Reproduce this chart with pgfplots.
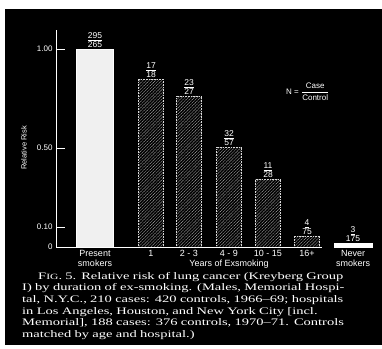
\documentclass[border=0pt]{standalone}
\usepackage{pgfplots}
\pgfplotsset{compat=1.18}
\usetikzlibrary{patterns.meta}
\usepackage{fontspec}
\setmainfont{Liberation Serif}
\newfontfamily\lsans{Liberation Sans}
\newfontfamily\capfont[FakeStretch=1.45,Ligatures=TeX]{Liberation Serif}
\newcommand{\fr}[2]{\underline{#1}\\#2}
\newcommand{\capline}[1]{\makebox[345pt][s]{#1}}
\tikzset{frac/.style={anchor=south, text=white, align=center, inner sep=1.5pt, font=\lsans\fontsize{8.5}{8.5}\selectfont}}
\begin{document}
\begin{tikzpicture}
\fill[white] (0,0) rectangle (382pt,-348pt);
\fill[black] (5pt,-9pt) rectangle (382pt,-345pt);
\begin{axis}[
  at={(56pt,-247pt)}, anchor=south west,
  scale only axis, width=322pt, height=217pt,
  xmin=56, xmax=378, ymin=0, ymax=1.096,
  axis line style={draw=none},
  clip=false,
  ytick={0,0.1,0.5,1}, yticklabels={0,0.10,0.50,1.00},
  ytick pos=left, tick align=inside, major tick length=9pt,
  ytick style={white, line width=0.8pt},
  xtick={95,151,189,229,268,307,353},
  xticklabels={{Present\\smokers},1,{2 - 3},{4 - 9},{10 - 15},16+,{Never\\smokers}},
  xtick style={draw=none},
  xtick pos=left,
  yticklabel style={text=white, font=\lsans\fontsize{8}{9}\selectfont},
  xticklabel style={text=white, font=\lsans\fontsize{9}{10}\selectfont, align=center},
]
\addplot[ybar, bar shift=0pt, bar width=37, fill=white!94!black, draw=white] coordinates {(95,1.00)};
\addplot[ybar, bar shift=0pt, bar width=25, draw=white!85!black, line width=0.8pt, dash pattern=on 1pt off 0.6pt,
  pattern={Lines[angle=45,distance=2.2pt,line width=0.45pt]}, pattern color=gray!70]
  coordinates {(151,0.848) (189,0.763) (229,0.505) (268,0.343) (307,0.056)};
\addplot[ybar, bar shift=0pt, bar width=38, fill=white, draw=white] coordinates {(353,0.02)};
\draw[white, line width=0.9pt] (axis cs:56,1.096) -- (axis cs:56,0) -- (axis cs:322,0);
\node[frac] at (axis cs:95,1.00) {\fr{295}{265}};
\node[frac] at (axis cs:151,0.848) {\fr{17}{18}};
\node[frac] at (axis cs:189,0.763) {\fr{23}{27}};
\node[frac] at (axis cs:229,0.505) {\fr{32}{57}};
\node[frac] at (axis cs:268,0.343) {\fr{11}{28}};
\node[frac] at (axis cs:307,0.056) {\fr{4}{75}};
\node[frac] at (axis cs:353,0.02) {\fr{3}{175}};
\end{axis}
\node[text=white, rotate=90, font=\lsans\fontsize{7.5}{8}\selectfont] at (24pt,-148pt) {Relative Risk};
\node[text=white, anchor=base, font=\lsans\fontsize{9}{10}\selectfont] at (229pt,-266pt) {Years of Exsmoking};
\node[text=white, anchor=west, inner sep=0pt, font=\lsans\fontsize{8}{9}\selectfont] at (286pt,-92pt)
  {N = $\displaystyle\frac{\hbox{Case}}{\hbox{Control}}$};
\node[anchor=north west, text=white, inner sep=0pt, text width=345pt, align=left,
  font=\capfont\fontsize{10}{11.6}\selectfont] at (22pt,-272pt)
  {\capline{\hspace*{16pt}F{\fontsize{8}{8}\selectfont IG}. 5. Relative risk of lung cancer (Kreyberg Group}\\
   \capline{I) by duration of ex-smoking. (Males, Memorial Hospi-}\\
   \capline{tal, N.Y.C., 210 cases: 420 controls, 1966–69; hospitals}\\
   \capline{in Los Angeles, Houston, and New York City [incl.}\\
   \capline{Memorial], 188 cases: 376 controls, 1970–71. Controls}\\
   matched by age and hospital.)};
\pgfresetboundingbox
\path (0,0) rectangle (382pt,-348pt);
\end{tikzpicture}
\end{document}
